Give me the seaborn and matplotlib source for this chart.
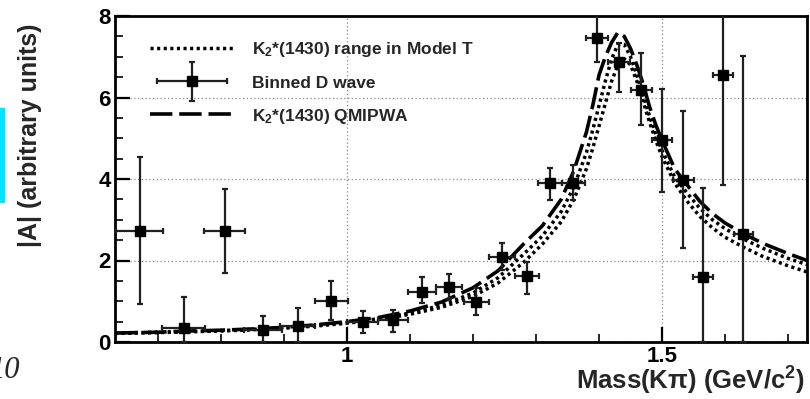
import numpy as np
import pandas as pd
import matplotlib
matplotlib.use("Agg")
import matplotlib.pyplot as plt
from matplotlib.ticker import MultipleLocator, FixedLocator
from matplotlib.legend_handler import HandlerErrorbar
from matplotlib.container import ErrorbarContainer
import seaborn as sns

# ---- data ----
mass = [0.671, 0.741, 0.806, 0.867, 0.922, 0.975, 1.025, 1.073, 1.119, 1.162,
        1.205, 1.246, 1.286, 1.322, 1.359, 1.397, 1.432, 1.467, 1.500, 1.534,
        1.565, 1.597, 1.629]
amp = [2.72, 0.34, 2.72, 0.29, 0.39, 1.00, 0.49, 0.54, 1.23, 1.35,
       0.99, 2.08, 1.62, 3.90, 3.90, 7.45, 6.88, 6.18, 4.96, 3.98,
       1.60, 6.55, 2.66]
amp_hi = [4.54, 1.10, 3.75, 0.64, 0.83, 1.50, 0.76, 0.79, 1.60, 1.67,
          1.32, 2.42, 1.96, 4.26, 4.34, 8.60, 7.34, 7.09, 6.20, 5.67,
          3.77, 8.60, 7.02]
amp_lo = [0.93, 0.00, 1.69, 0.00, 0.00, 0.54, 0.22, 0.25, 0.96, 1.05,
          0.66, 1.77, 1.19, 3.48, 3.48, 6.88, 6.14, 5.33, 3.69, 2.31,
          0.00, 3.85, 0.00]
mass_err = [0.037, 0.034, 0.032, 0.030, 0.028, 0.026, 0.025, 0.024, 0.022, 0.021,
            0.020, 0.020, 0.019, 0.019, 0.018, 0.018, 0.017, 0.017, 0.016, 0.016,
            0.016, 0.016, 0.015]

curve_x = [0.632, 0.70, 0.75, 0.80, 0.85, 0.90, 0.95, 1.00, 1.05, 1.10, 1.15, 1.20,
           1.24, 1.28, 1.31, 1.34, 1.36, 1.38, 1.39, 1.40, 1.41, 1.42, 1.43, 1.44,
           1.45, 1.46, 1.47, 1.48, 1.49, 1.50, 1.52, 1.54, 1.56, 1.58, 1.60, 1.63,
           1.66, 1.70, 1.73]
qmipwa = [0.22, 0.24, 0.27, 0.29, 0.32, 0.36, 0.42, 0.50, 0.60, 0.76, 0.98, 1.33,
          1.75, 2.40, 2.85, 3.50, 4.20, 5.15, 5.80, 6.55, 7.00, 7.35, 7.60, 7.50,
          7.20, 6.80, 6.33, 5.78, 5.33, 4.95, 4.25, 3.85, 3.45, 3.15, 2.92, 2.65,
          2.42, 2.17, 2.00]
model_t_hi = [0.22, 0.24, 0.26, 0.28, 0.31, 0.35, 0.41, 0.48, 0.57, 0.71, 0.90, 1.20,
              1.58, 2.15, 2.60, 3.20, 3.80, 4.65, 5.20, 5.80, 6.40, 6.95, 7.30, 7.30,
              7.00, 6.55, 6.05, 5.55, 5.10, 4.70, 4.05, 3.65, 3.28, 3.00, 2.78, 2.52,
              2.30, 2.05, 1.90]
model_t_lo = [0.21, 0.23, 0.25, 0.27, 0.30, 0.34, 0.39, 0.46, 0.55, 0.68, 0.85, 1.12,
              1.45, 1.95, 2.40, 2.95, 3.50, 4.25, 4.75, 5.30, 5.85, 6.40, 6.80, 6.95,
              6.80, 6.40, 5.90, 5.40, 4.95, 4.55, 3.90, 3.45, 3.08, 2.80, 2.57, 2.32,
              2.10, 1.87, 1.72]

lbl_range = r"K$_\mathbf{2}$*(1430) range in Model T"
lbl_data = "Binned D wave"
lbl_qmipwa = r"K$_\mathbf{2}$*(1430) QMIPWA"
x_label = r"Mass(K$\mathbf{\pi}$) (GeV/c$^\mathbf{2}$)"
y_label = "|A| (arbitrary units)"

# ---- style ----
sns.set_style("white")
plt.rcParams["font.family"] = ["Liberation Sans", "DejaVu Sans"]
plt.rcParams["font.weight"] = "bold"
plt.rcParams["mathtext.fontset"] = "custom"
plt.rcParams["mathtext.rm"] = "Liberation Sans:bold"
plt.rcParams["mathtext.bf"] = "Liberation Sans:bold"
plt.rcParams["mathtext.it"] = "Liberation Sans:bold"

fig = plt.figure(figsize=(8.10, 3.99), dpi=100)
ax = fig.add_axes([115 / 810, 1 - 342 / 399, (807 - 115) / 810, (342 - 16) / 399])

curves = pd.DataFrame({"x": curve_x, "qmipwa": qmipwa, "hi": model_t_hi, "lo": model_t_lo})

dot_style = (0, (0.9, 1.0))
sns.lineplot(data=curves, x="x", y="hi", ax=ax, color="black", linewidth=2.5,
             linestyle=dot_style, errorbar=None, sort=True, label=lbl_range)
sns.lineplot(data=curves, x="x", y="lo", ax=ax, color="black", linewidth=2.5,
             linestyle=dot_style, errorbar=None, sort=True)

yerr = np.array([np.array(amp) - np.array(amp_lo), np.array(amp_hi) - np.array(amp)])
eb = ax.errorbar(mass, amp, yerr=yerr, xerr=mass_err, fmt="s", color="black",
                 markersize=6.5, ecolor="#202020", elinewidth=1.6, capsize=2.5,
                 capthick=1.6, label=lbl_data, zorder=5)

sns.lineplot(data=curves, x="x", y="qmipwa", ax=ax, color="black", linewidth=2.6,
             linestyle=(0, (6.2, 1.9)), errorbar=None, sort=True, label=lbl_qmipwa)

ax.set_xlim(0.632, 1.73)
ax.set_ylim(0, 8)

ax.xaxis.set_major_locator(FixedLocator([1.0, 1.5]))
ax.xaxis.set_minor_locator(MultipleLocator(0.1))
ax.yaxis.set_major_locator(MultipleLocator(2))
ax.yaxis.set_minor_locator(MultipleLocator(0.5))
ax.set_xticklabels(["1", "1.5"])
ax.tick_params(axis="both", which="major", direction="in", length=11, width=1.6,
               labelsize=16, colors="black", bottom=True, left=True)
ax.tick_params(axis="both", which="minor", direction="in", length=5.5, width=1.4,
               bottom=True, left=True)
ax.tick_params(axis="x", which="major", pad=3)
ax.tick_params(axis="y", which="major", pad=3)
for lab in ax.get_xticklabels() + ax.get_yticklabels():
    lab.set_fontweight("bold")

ax.grid(True, which="major", linestyle=(0, (1, 2)), color="#888888", linewidth=0.9)
for sp in ax.spines.values():
    sp.set_linewidth(2.0)
    sp.set_color("black")

ax.set_xlabel("")
ax.set_ylabel("")

fig.text(805 / 810, 1 - 390 / 399, x_label, ha="right", va="baseline",
         fontsize=18.5, fontweight="bold")
fig.text(30 / 810, 1 - 135 / 399, y_label, ha="center", va="center",
         rotation=90, fontsize=18, fontweight="bold")

handles, labels = ax.get_legend_handles_labels()
order = [labels.index(lbl_range), labels.index(lbl_data), labels.index(lbl_qmipwa)]
leg = ax.legend([handles[i] for i in order], [labels[i] for i in order],
                loc="upper left", bbox_to_anchor=(0.05, 0.925), frameon=False,
                fontsize=12.5, handlelength=4.9, handletextpad=1.0,
                labelspacing=0.92, borderaxespad=0, borderpad=0,
                handler_map={ErrorbarContainer: HandlerErrorbar(xerr_size=2.0, yerr_size=1.1)})
for t in leg.get_texts():
    t.set_fontweight("bold")

# page artefacts at the left edge
fig.patches.append(plt.Rectangle((0, 1 - 202 / 399), 4 / 810, 94 / 399,
                                 transform=fig.transFigure, color="#00e5ff"))
fig.text(-0.012, 1 - 371 / 399, "10", fontsize=22, fontstyle="italic",
         family="Liberation Serif", fontweight="normal", ha="left", va="center")

fig.savefig("out.png", dpi=100)
